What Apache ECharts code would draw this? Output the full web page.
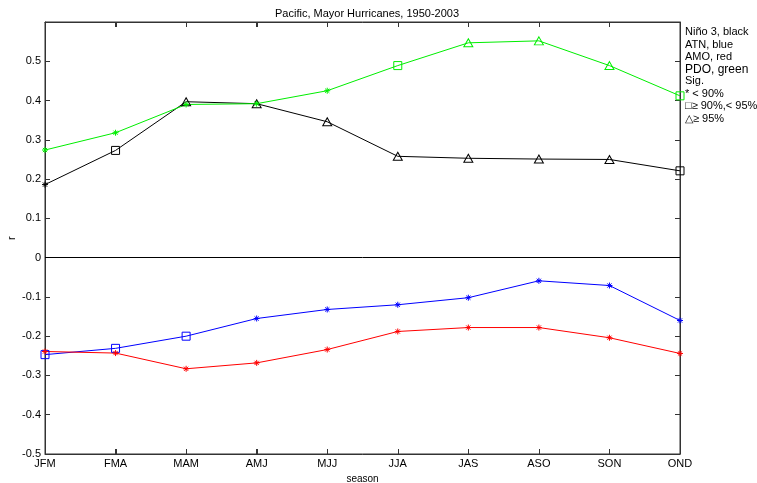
<!DOCTYPE html>
<html>
<head>
<meta charset="utf-8">
<script src="https://cdn.jsdelivr.net/npm/echarts@6/dist/echarts.min.js"></script>
<style>
  html, body { margin: 0; padding: 0; background: #fff; }
  #chart { width: 757px; height: 483px; }
</style>
</head>
<body>
<div id="chart"></div>
<script>
// Seasons (3-month running windows)
const seasons = ['JFM', 'FMA', 'MAM', 'AMJ', 'MJJ', 'JJA', 'JAS', 'ASO', 'SON', 'OND'];

// Correlation r with Pacific major hurricanes, 1950-2003
const nino3 = [0.186, 0.273, 0.397, 0.392, 0.346, 0.258, 0.253, 0.251, 0.250, 0.221];
const atn   = [-0.247, -0.231, -0.200, -0.155, -0.132, -0.120, -0.102, -0.059, -0.071, -0.160];
const amo   = [-0.239, -0.243, -0.283, -0.268, -0.234, -0.188, -0.178, -0.178, -0.204, -0.244];
const pdo   = [0.274, 0.318, 0.390, 0.392, 0.425, 0.489, 0.547, 0.552, 0.489, 0.412];

// Significance level per season: 'a' = < 90%, 'b' = >= 90% and < 95%, 'c' = >= 95%
const nino3Sig = ['a', 'b', 'c', 'c', 'c', 'c', 'c', 'c', 'c', 'b'];
const atnSig   = ['b', 'b', 'b', 'a', 'a', 'a', 'a', 'a', 'a', 'a'];
const amoSig   = ['a', 'a', 'a', 'a', 'a', 'a', 'a', 'a', 'a', 'a'];
const pdoSig   = ['a', 'a', 'a', 'a', 'a', 'b', 'c', 'c', 'c', 'b'];

const yTicks = [-0.5, -0.4, -0.3, -0.2, -0.1, 0, 0.1, 0.2, 0.3, 0.4, 0.5];
const yMin = -0.5, yMax = 0.6;

const asterisk = 'path://M0 5 L10 5 M5 0 L5 10 M1.5 1.5 L8.5 8.5 M1.5 8.5 L8.5 1.5';

function markerFor(code, color) {
  if (code === 'a') {
    return { symbol: asterisk, symbolSize: 6,
      itemStyle: { color: 'none', borderColor: color, borderWidth: 1 } };
  }
  if (code === 'b') {
    return { symbol: 'rect', symbolSize: 8,
      itemStyle: { color: 'none', borderColor: color, borderWidth: 1 } };
  }
  return { symbol: 'triangle', symbolSize: [9, 8],
    itemStyle: { color: 'none', borderColor: color, borderWidth: 1 } };
}

// seasons are placed at positions 0..n-1 on a numeric x axis
function makeSeries(name, values, sig, color) {
  return {
    name: name,
    type: 'line',
    data: values.map((v, i) => Object.assign({ value: [i, v] }, markerFor(sig[i], color))),
    lineStyle: { color: color, width: 1 },
    itemStyle: { color: 'none', borderColor: color, borderWidth: 1 },
    showAllSymbol: true,
    animation: false,
    z: 3
  };
}

const font = 'Liberation Sans, Arial, sans-serif';
const axisColor = '#333';

const chart = echarts.init(document.getElementById('chart'), null, { renderer: 'canvas' });

const series = [
  makeSeries('Niño 3', nino3, nino3Sig, '#000000'),
  makeSeries('ATN', atn, atnSig, '#0000ff'),
  makeSeries('AMO', amo, amoSig, '#ff0000'),
  makeSeries('PDO', pdo, pdoSig, '#00ee00')
];
// horizontal zero line
series[0].markLine = {
  silent: true, symbol: 'none', label: { show: false },
  lineStyle: { color: '#000', width: 1, type: 'solid' },
  data: [{ yAxis: 0 }], animation: false
};

// inward season ticks on the bottom and top edges of the box
series.push({
  type: 'custom',
  silent: true,
  clip: false,
  animation: false,
  z: 2,
  data: seasons.map((s, i) => [i, 0]),
  renderItem: function (params, api) {
    const i = api.value(0);
    const b = api.coord([i, yMin]);
    const t = api.coord([i, yMax]);
    const x = Math.round(b[0]) + 0.5;
    const style = { stroke: axisColor, lineWidth: 1 };
    return {
      type: 'group',
      children: [
        { type: 'line', shape: { x1: x, y1: b[1], x2: x, y2: b[1] - 5 }, style: style },
        { type: 'line', shape: { x1: x, y1: t[1], x2: x, y2: t[1] + 5 }, style: style }
      ]
    };
  }
});

const legendLines = [
  { t: 'Niño 3, black', y: 33, s: 11 },
  { t: 'ATN, blue', y: 46, s: 11 },
  { t: 'AMO, red', y: 58.5, s: 11 },
  { t: 'PDO, green', y: 71, s: 12 },
  { t: 'Sig.', y: 82, s: 11 },
  { t: '* < 90%', y: 95, s: 11 },
  { t: '□≥ 90%,< 95%', y: 107.5, s: 11 },
  { t: '△≥ 95%', y: 120.5, s: 11 }
];

const boxTick = { show: true, inside: true, length: 5, lineStyle: { color: axisColor } };

chart.setOption({
  backgroundColor: '#fff',
  animation: false,
  title: {
    text: 'Pacific, Mayor Hurricanes, 1950-2003',
    left: 362, top: 3, textAlign: 'center',
    textStyle: { fontFamily: font, fontSize: 11, fontWeight: 'normal', color: '#000' }
  },
  grid: {
    left: 45, right: 77, top: 22, bottom: 29,
    containLabel: false, outerBoundsMode: 'none',
    show: true, borderColor: axisColor, borderWidth: 1
  },
  xAxis: [
    {
      type: 'value', min: 0, max: seasons.length - 1, interval: 1, position: 'bottom',
      name: 'season', nameLocation: 'middle', nameGap: 18,
      nameTextStyle: { fontFamily: font, fontSize: 10, color: '#000' },
      axisLine: { show: true, onZero: false, lineStyle: { color: axisColor } },
      axisTick: boxTick,
      axisLabel: {
        fontFamily: font, fontSize: 11, color: '#000', margin: 4,
        showMinLabel: true, showMaxLabel: true,
        formatter: v => seasons[Math.round(v)] || ''
      },
      splitLine: { show: false }
    },
    {
      type: 'value', min: 0, max: seasons.length - 1, interval: 1, position: 'top',
      axisLine: { show: true, onZero: false, lineStyle: { color: axisColor } },
      axisTick: boxTick,
      axisLabel: { show: false },
      splitLine: { show: false }
    }
  ],
  yAxis: [
    {
      type: 'value', min: yMin, max: yMax, interval: 0.1, position: 'left',
      axisLine: { show: true, onZero: false, lineStyle: { color: axisColor } },
      axisTick: boxTick,
      axisLabel: {
        fontFamily: font, fontSize: 11, color: '#000', margin: 4,
        formatter: function (v) {
          const r = Math.round(v * 10) / 10;
          if (!yTicks.some(t => Math.abs(t - r) < 1e-9)) return '';
          return r === 0 ? '0' : r.toFixed(1);
        }
      },
      splitLine: { show: false }
    },
    {
      type: 'value', min: yMin, max: yMax, interval: 0.1, position: 'right',
      axisLine: { show: true, onZero: false, lineStyle: { color: axisColor } },
      axisTick: boxTick,
      axisLabel: { show: false },
      splitLine: { show: false }
    }
  ],
  series: series,
  graphic: legendLines.map(l => ({
    type: 'text', left: 685, top: l.y - l.s * 0.6,
    style: { text: l.t, fontFamily: font, fontSize: l.s, fill: '#000' }
  })).concat([{
    // y axis name
    type: 'text', x: 6, y: 240, rotation: Math.PI / 2,
    style: { text: 'r', fontFamily: font, fontSize: 11, fill: '#000' }
  }])
});
</script>
</body>
</html>
